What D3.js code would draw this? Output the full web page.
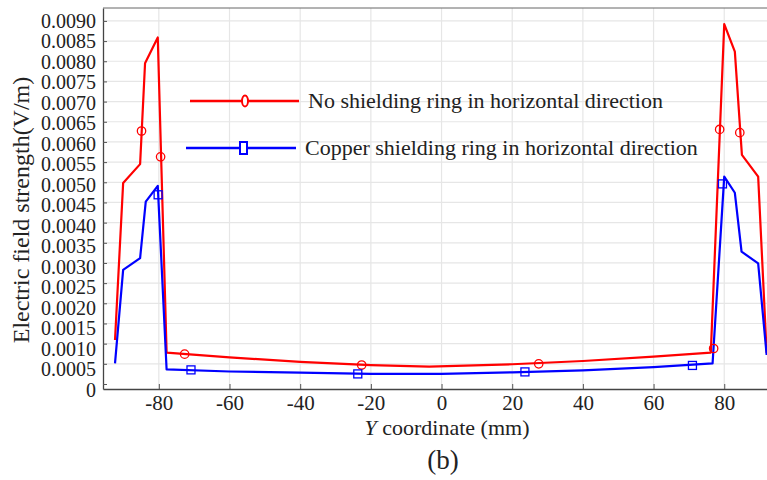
<!DOCTYPE html>
<html>
<head>
<meta charset="utf-8">
<script src="https://cdn.jsdelivr.net/npm/d3@7"></script>
<style>
  body { margin: 0; background: #fff; }
  svg text { font-family: 'Liberation Serif', 'DejaVu Serif', serif; }
</style>
</head>
<body>
<svg id="chart" width="767" height="480"></svg>
<script>
// No shielding ring (red)
var redX = [-92.4, -90.1, -85.3, -83.9, -80.3, -77.8, -60, -40, -20, -3.5, 20, 40, 60, 76.2, 80, 83, 85, 89.6, 92];
var redY = [0.00109, 0.00498, 0.00545, 0.00795, 0.00859, 0.00078, 0.00066, 0.00055, 0.00047, 0.00043, 0.00049, 0.00057, 0.00068, 0.00078, 0.00892, 0.00824, 0.00568, 0.00514, 0.00077];
var redMarkX = [-84.9, -79.5, -72.7, -22.6, 27.5, 77, 78.7, 84.4];
var redMarkY = [0.00627, 0.00563, 0.00074, 0.00047, 0.0005, 0.00088, 0.00631, 0.00623];

// Copper shielding ring (blue)
var blueX = [-92.4, -90.1, -85.3, -83.7, -80.3, -77.8, -60, -40, -20, 0, 20, 40, 60, 76.7, 80, 83, 84.9, 89.6, 92];
var blueY = [0.00051, 0.00283, 0.00312, 0.00452, 0.00491, 0.00036, 0.00031, 0.00028, 0.00025, 0.00025, 0.00029, 0.00034, 0.00042, 0.00051, 0.00514, 0.00474, 0.00328, 0.00299, 0.00072];
var blueMarkX = [-80.2, -70.9, -23.7, 23.6, 71, 79.5];
var blueMarkY = [0.00469, 0.00035, 0.00025, 0.0003, 0.00046, 0.00496];

var xTicks = [-80, -60, -40, -20, 0, 20, 40, 60, 80];
var yTicks = d3.range(0, 19).map(function (i) { return i * 0.0005; });
var legendLabels = ["No shielding ring in horizontal direction", "Copper shielding ring in horizontal direction"];

var plotLeft = 103, plotRight = 767, plotTop = 8, plotBottom = 389;
var serif = "'Liberation Serif', 'DejaVu Serif', serif";

var x = d3.scaleLinear().domain([-95.8, 92.1]).range([plotLeft, plotRight]);
var y = d3.scaleLinear().domain([-0.000124, 0.00932]).range([plotBottom, plotTop]);

var svg = d3.select("#chart");

// grid
svg.append("g").selectAll("line").data(yTicks.slice(1)).enter().append("line")
  .attr("x1", plotLeft).attr("x2", plotRight)
  .attr("y1", function (d) { return y(d); }).attr("y2", function (d) { return y(d); })
  .attr("stroke", "#e6e6e6").attr("stroke-width", 1.2);
svg.append("g").selectAll("line").data(xTicks).enter().append("line")
  .attr("y1", plotTop).attr("y2", plotBottom)
  .attr("x1", function (d) { return x(d); }).attr("x2", function (d) { return x(d); })
  .attr("stroke", "#e6e6e6").attr("stroke-width", 1.2);

// axes
var xAxis = d3.axisBottom(x).tickValues(xTicks).tickSizeInner(-5).tickSizeOuter(0).tickPadding(6)
  .tickFormat(function (d) { return String(d); });
var yAxis = d3.axisLeft(y).tickValues(yTicks).tickSizeInner(-4).tickSizeOuter(0).tickPadding(7)
  .tickFormat(function (d) { return d === 0 ? "0" : d.toFixed(4); });

var gx = svg.append("g").attr("transform", "translate(0," + plotBottom + ")").call(xAxis);
var gy = svg.append("g").attr("transform", "translate(" + plotLeft + ",0)").call(yAxis);
gx.attr("font-size", 21);
gy.attr("font-size", 20);
[gx, gy].forEach(function (g) {
  g.attr("font-family", serif);
  g.select(".domain").attr("stroke", "#444").attr("stroke-width", 1.3);
  g.selectAll(".tick line").attr("stroke", "#555");
  g.selectAll("text").attr("fill", "#222");
});
// lower labels sit a little below their ticks in the original
gy.selectAll(".tick text").attr("y", function (d) { return 6 * (1 - d / 0.009); });

svg.append("line").attr("x1", plotLeft).attr("x2", plotRight).attr("y1", plotTop).attr("y2", plotTop)
  .attr("stroke", "#666").attr("stroke-width", 1);

// lines
var line = d3.line().x(function (d) { return x(d[0]); }).y(function (d) { return y(d[1]); });

function drawSeries(xs, ys, color) {
  svg.append("path").datum(d3.zip(xs, ys)).attr("d", line)
    .attr("fill", "none").attr("stroke", color).attr("stroke-width", 2.2).attr("stroke-linejoin", "round");
}
drawSeries(redX, redY, "#ff0000");
drawSeries(blueX, blueY, "#0000ff");

svg.append("g").selectAll("circle").data(d3.zip(redMarkX, redMarkY)).enter().append("circle")
  .attr("cx", function (d) { return x(d[0]); }).attr("cy", function (d) { return y(d[1]); })
  .attr("r", 4.2).attr("fill", "none").attr("stroke", "#ff0000").attr("stroke-width", 1.3);
svg.append("g").selectAll("rect").data(d3.zip(blueMarkX, blueMarkY)).enter().append("rect")
  .attr("x", function (d) { return x(d[0]) - 4; }).attr("y", function (d) { return y(d[1]) - 4; })
  .attr("width", 8).attr("height", 8).attr("fill", "none").attr("stroke", "#0000ff").attr("stroke-width", 1.3);

// legend
var lg = svg.append("g").attr("font-family", serif).attr("font-size", 22).attr("fill", "#222");
lg.append("line").attr("x1", 190).attr("x2", 299).attr("y1", 101).attr("y2", 101).attr("stroke", "#ff0000").attr("stroke-width", 2.5);
lg.append("ellipse").attr("cx", 245).attr("cy", 101).attr("rx", 3).attr("ry", 5.5)
  .attr("fill", "#fff").attr("stroke", "#ff0000").attr("stroke-width", 2);
lg.append("text").attr("x", 308).attr("y", 108).text(legendLabels[0]);
lg.append("line").attr("x1", 186).attr("x2", 296).attr("y1", 148).attr("y2", 148).attr("stroke", "#0000ff").attr("stroke-width", 2.5);
lg.append("rect").attr("x", 240).attr("y", 142).attr("width", 7).attr("height", 12)
  .attr("fill", "#fff").attr("stroke", "#0000ff").attr("stroke-width", 2);
lg.append("text").attr("x", 305).attr("y", 155).text(legendLabels[1]);

// titles
var xt = svg.append("text").attr("x", 447).attr("y", 435).attr("text-anchor", "middle")
  .attr("font-family", serif).attr("font-size", 22).attr("fill", "#222");
xt.append("tspan").attr("font-style", "italic").text("Y");
xt.append("tspan").text(" coordinate (mm)");

svg.append("text").attr("transform", "translate(29,210) rotate(-90)").attr("text-anchor", "middle")
  .attr("font-family", serif).attr("font-size", 24).attr("fill", "#222").text("Electric field strength(V/m)");

svg.append("text").attr("x", 443).attr("y", 469).attr("text-anchor", "middle")
  .attr("font-family", serif).attr("font-size", 27).attr("fill", "#222").text("(b)");
</script>
</body>
</html>
